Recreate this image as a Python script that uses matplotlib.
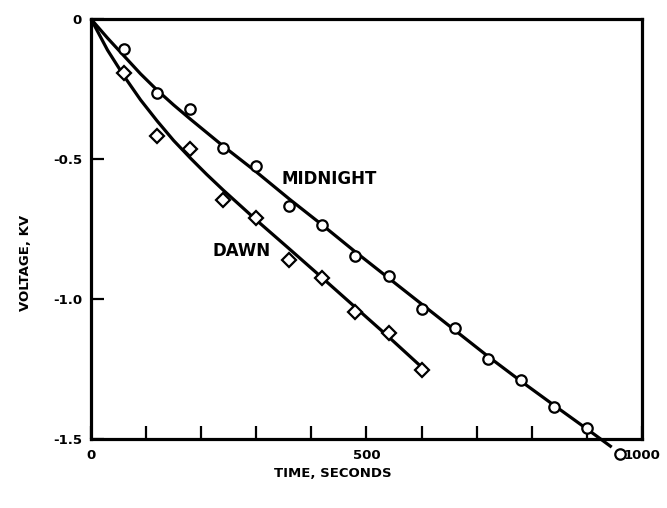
import numpy as np
import matplotlib
matplotlib.use("Agg")
import matplotlib.pyplot as plt
from matplotlib.ticker import FixedLocator, MultipleLocator

plt.rcParams["axes.unicode_minus"] = False
plt.rcParams["font.family"] = "DejaVu Sans"
plt.rcParams["font.weight"] = "bold"

# measured points, seconds / kV
mid_t = [60, 120, 180, 240, 300, 360, 420, 480, 540, 600, 660, 720, 780, 840, 900, 960]
mid_v = [-0.108, -0.265, -0.321, -0.462, -0.525, -0.668, -0.735, -0.845,
         -0.917, -1.037, -1.103, -1.215, -1.289, -1.385, -1.462, -1.554]

dawn_t = [60, 120, 180, 240, 300, 360, 420, 480, 540, 600]
dawn_v = [-0.194, -0.419, -0.466, -0.646, -0.712, -0.86, -0.924, -1.047, -1.121, -1.255]

# fitted curves
mid_fit_t = [0, 30, 60, 90, 120, 150, 180, 240, 300, 360, 420, 480, 540, 600,
             660, 720, 780, 840, 900, 945]
mid_fit_v = [0, -0.068, -0.132, -0.196, -0.254, -0.307, -0.357, -0.454, -0.546,
             -0.643, -0.736, -0.832, -0.925, -1.018, -1.111, -1.204, -1.293,
             -1.379, -1.464, -1.529]

dawn_fit_t = [0, 30, 60, 90, 120, 150, 180, 210, 240, 300, 360, 420, 480, 540, 600, 605]
dawn_fit_v = [0, -0.111, -0.204, -0.289, -0.364, -0.434, -0.496, -0.555, -0.611,
              -0.718, -0.821, -0.925, -1.03, -1.135, -1.243, -1.252]

fig = plt.figure(figsize=(6.67, 5.08), dpi=100)
ax = fig.add_axes([0.1364, 0.1358, 0.8261, 0.8268])

ax.plot(mid_fit_t, mid_fit_v, color="black", lw=2.3, clip_on=False, solid_capstyle="butt")
ax.plot(dawn_fit_t, dawn_fit_v, color="black", lw=2.3, clip_on=False, solid_capstyle="butt")
ax.plot(mid_t, mid_v, "o", ms=7.5, mfc="white", mec="black", mew=1.6, clip_on=False, zorder=3)
ax.plot(dawn_t, dawn_v, "D", ms=7.3, mfc="white", mec="black", mew=1.6, clip_on=False, zorder=3)

ax.text(433, -0.571, "MIDNIGHT", fontsize=12, fontweight="bold", ha="center", va="center")
ax.text(273, -0.829, "DAWN", fontsize=12, fontweight="bold", ha="center", va="center")

ax.set_xlim(0, 1000)
ax.set_ylim(-1.5, 0)

ax.xaxis.set_major_locator(FixedLocator([0, 500, 1000]))
ax.xaxis.set_minor_locator(MultipleLocator(100))
ax.set_xticklabels(["0", "500", "1000"])
ax.set_yticks([0, -0.5, -1.0, -1.5])
ax.set_yticklabels(["0", "-0.5", "-1.0", "-1.5"])

ax.tick_params(axis="both", which="both", direction="in", length=9.5, width=1.6,
               labelsize=9.5, top=False, right=False)
ax.tick_params(axis="x", which="both", pad=7)
ax.tick_params(axis="y", pad=6.5)

for s in ax.spines.values():
    s.set_linewidth(2.3)

ax.set_xlabel("TIME, SECONDS", fontsize=9.5, fontweight="bold")
ax.set_ylabel("VOLTAGE, KV", fontsize=9.5, fontweight="bold")
ax.xaxis.set_label_coords(0.439, -0.067)
ax.yaxis.set_label_coords(-0.107, 0.42)

fig.savefig("out.png", dpi=100)
